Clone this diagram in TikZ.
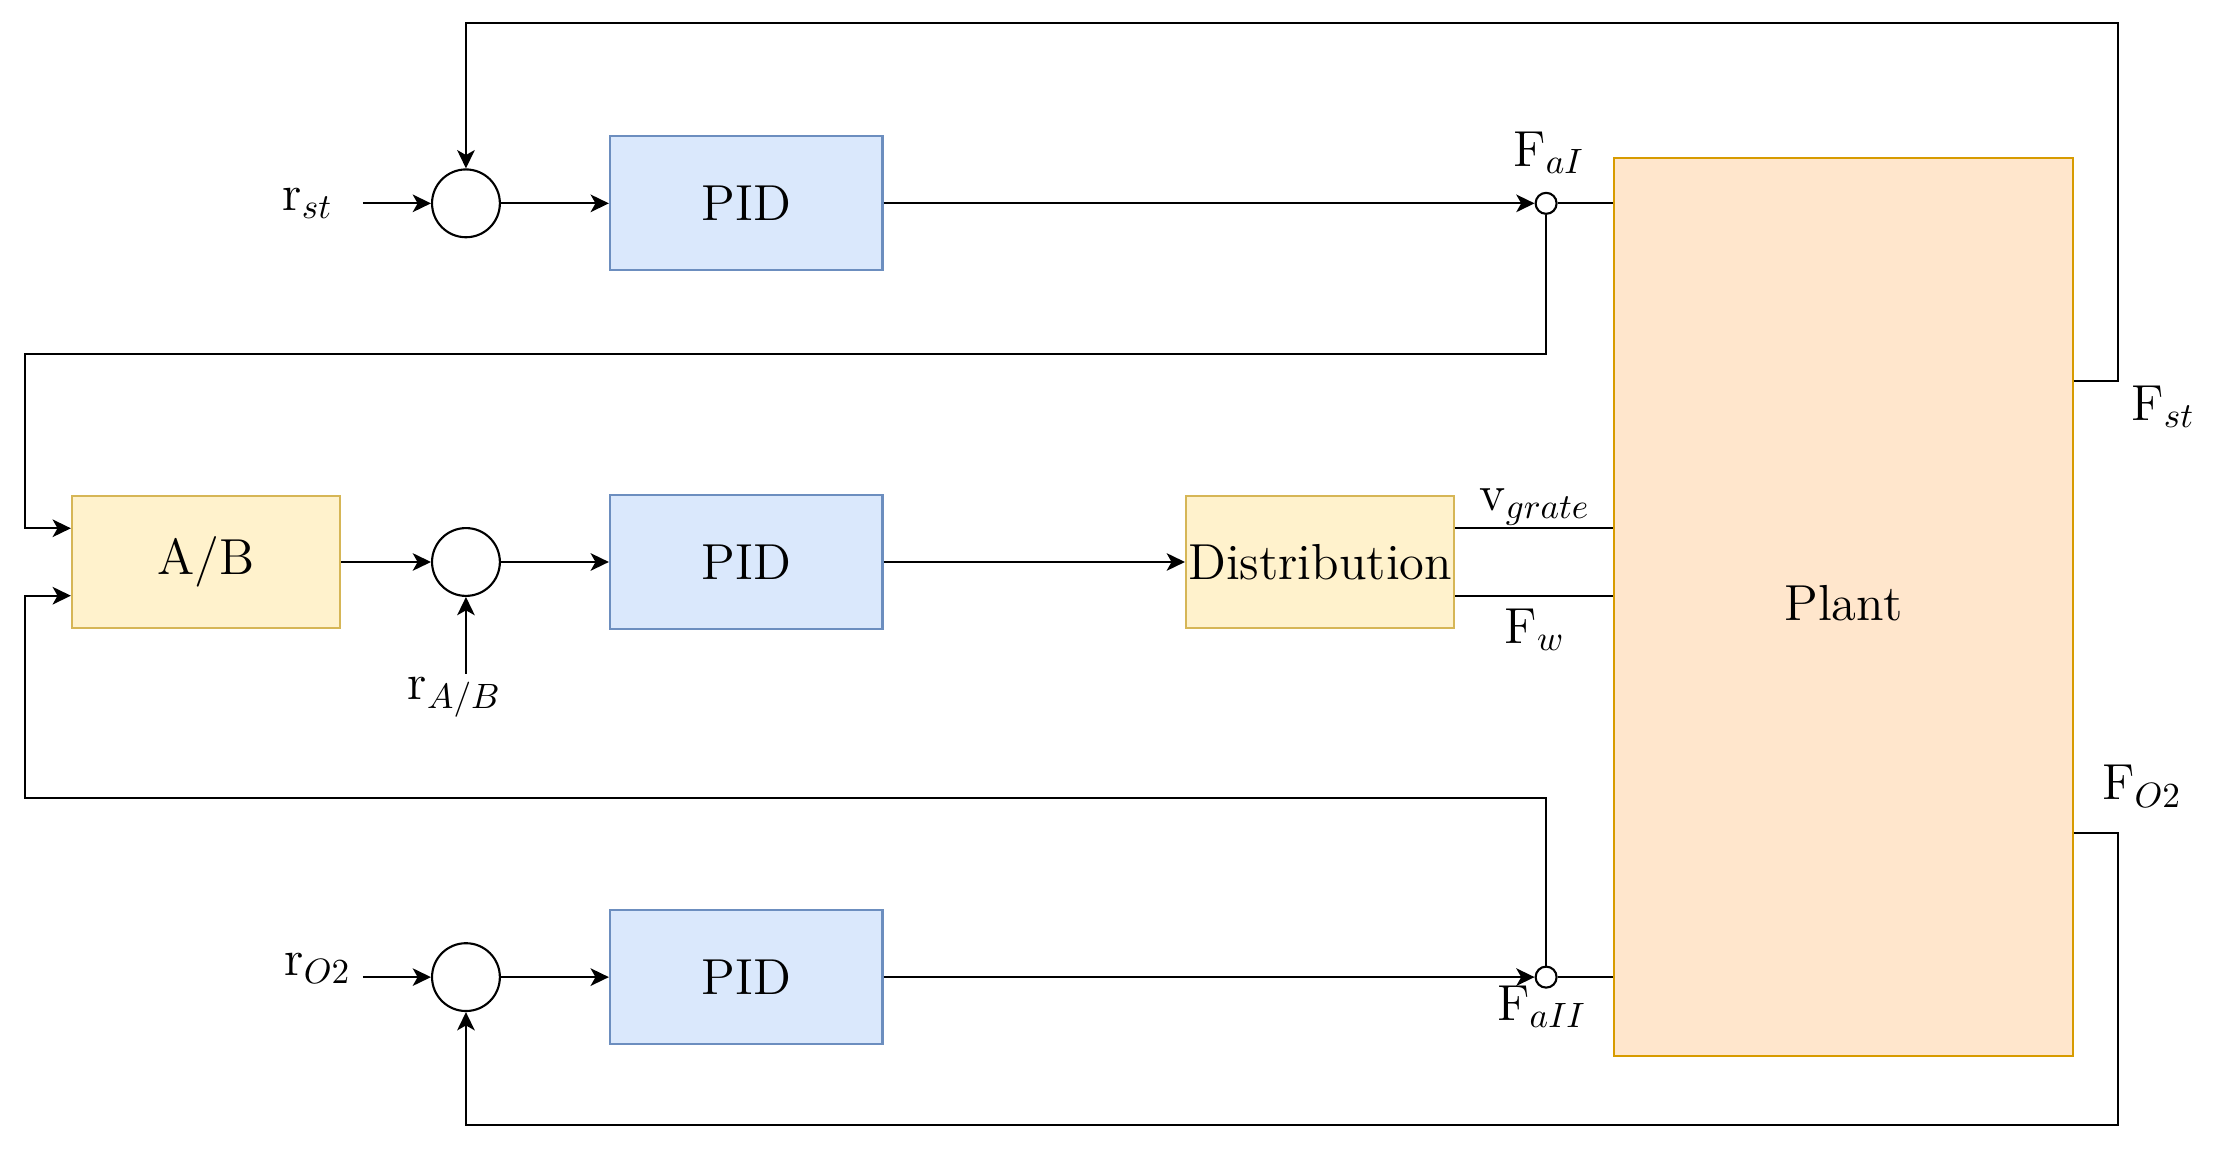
\documentclass[tikz,border=0pt]{standalone}
\usetikzlibrary{arrows.meta,calc}
\definecolor{pidfill}{HTML}{DAE8FC}
\definecolor{piddraw}{HTML}{6C8EBF}
\definecolor{yelfill}{HTML}{FFF2CC}
\definecolor{yeldraw}{HTML}{D6B656}
\definecolor{orfill}{HTML}{FFE6CC}
\definecolor{ordraw}{HTML}{D79B00}
\tikzset{
  arr/.style={-{Stealth[length=5.2pt,width=5pt,inset=1.4pt]}},
  pidbox/.style={draw=piddraw,fill=pidfill,line width=0.6pt,minimum width=2.725cm,minimum height=1.341cm,inner sep=0pt,font=\Large},
  yelbox/.style={draw=yeldraw,fill=yelfill,line width=0.6pt,minimum width=2.683cm,minimum height=1.327cm,inner sep=0pt,font=\Large},
  plantbox/.style={draw=ordraw,fill=orfill,line width=0.6pt,minimum width=4.589cm,minimum height=8.98cm,inner sep=0pt,font=\Large},
  sumc/.style={draw,circle,line width=0.6pt,minimum size=0.678cm,inner sep=0pt},
  smallc/.style={draw,circle,fill=white,line width=0.6pt,minimum size=0.21cm,inner sep=0pt},
  lab/.style={font=\Large,inner sep=0pt}
}
\begin{document}
\begin{tikzpicture}[x=0.01412cm,y=-0.01412cm,line width=0.6pt]
\useasboundingbox (0,0) rectangle (1568,817);
% nodes
\node[sumc] (s1) at (330,144) {};
\node[sumc] (s2) at (330,398) {};
\node[sumc] (s3) at (330,692) {};
\node[pidbox] (p1) at (528.5,144) {PID};
\node[pidbox] (p2) at (528.5,398) {PID};
\node[pidbox] (p3) at (528.5,692) {PID};
\node[yelbox] (ab) at (146,398) {A/B};
\node[yelbox] (dist) at (935,398) {Distribution};
\node[plantbox] (pl) at (1305.5,430) {};
\node[lab] (pltxt) at (1305.5,427) {Plant};
\node[smallc] (fa1) at (1095,144) {};
\node[smallc] (fa2) at (1095,692) {};
% labels
\node[lab] (rst) at (218,144) {$\mathrm{r}_{st}$};
\node[lab] (rab) at (322,494) {$\mathrm{r}_{A/B}$};
\node[lab] (ro2) at (225,686) {$\mathrm{r}_{O2}$};
\node[lab] (lfa1) at (1097,108) {$\mathrm{F}_{aI}$};
\node[lab] (lfa2) at (1092,713) {$\mathrm{F}_{aII}$};
\node[lab] (lvg) at (1087,359) {$\mathrm{v}_{grate}$};
\node[lab] (lfw) at (1087,446) {$\mathrm{F}_{w}$};
\node[lab] (lfst) at (1532,288) {$\mathrm{F}_{st}$};
\node[lab] (lfo2) at (1517,557) {$\mathrm{F}_{O2}$};
% coordinates
\coordinate (rstend) at (257,144);
\coordinate (rabend) at (330,477);
\coordinate (ro2end) at (257,692);
\coordinate (fst) at (1500,270);
\coordinate (fo2) at (1500,590);
\coordinate (topy) at (0,16);
\coordinate (boty) at (0,797);
\coordinate (leftx) at (18,0);
\coordinate (midy1) at (0,251);
\coordinate (midy2) at (0,565);
\coordinate (ab1) at ($(ab.north west)!0.25!(ab.south west)$);
\coordinate (ab2) at ($(ab.north west)!0.75!(ab.south west)$);
% top row
\draw[arr] (rstend) -- (s1.west);
\draw[arr] (s1.east) -- (p1.west);
\draw[arr] (p1.east) -- (fa1.west);
\draw (fa1.east) -- (fa1.east -| pl.west);
% middle row
\draw[arr] (ab.east) -- (s2.west);
\draw[arr] (rabend) -- (s2.south);
\draw[arr] (s2.east) -- (p2.west);
\draw[arr] (p2.east) -- (dist.west);
\draw (dist.east |- ab1) -- (pl.west |- ab1);
\draw (dist.east |- ab2) -- (pl.west |- ab2);
% bottom row
\draw[arr] (ro2end) -- (s3.west);
\draw[arr] (s3.east) -- (p3.west);
\draw[arr] (p3.east) -- (fa2.west);
\draw (fa2.east) -- (fa2.east -| pl.west);
% feedback to A/B
\draw[arr] (fa1.south) -- (fa1 |- midy1) -- (leftx |- midy1) -- (leftx |- ab1) -- (ab1);
\draw[arr] (fa2.north) -- (fa2 |- midy2) -- (leftx |- midy2) -- (leftx |- ab2) -- (ab2);
% outer loops
\draw[arr] (pl.east |- fst) -- (fst) -- (fst |- topy) -- (s1 |- topy) -- (s1.north);
\draw[arr] (pl.east |- fo2) -- (fo2) -- (fo2 |- boty) -- (s3 |- boty) -- (s3.south);
\end{tikzpicture}
\end{document}
